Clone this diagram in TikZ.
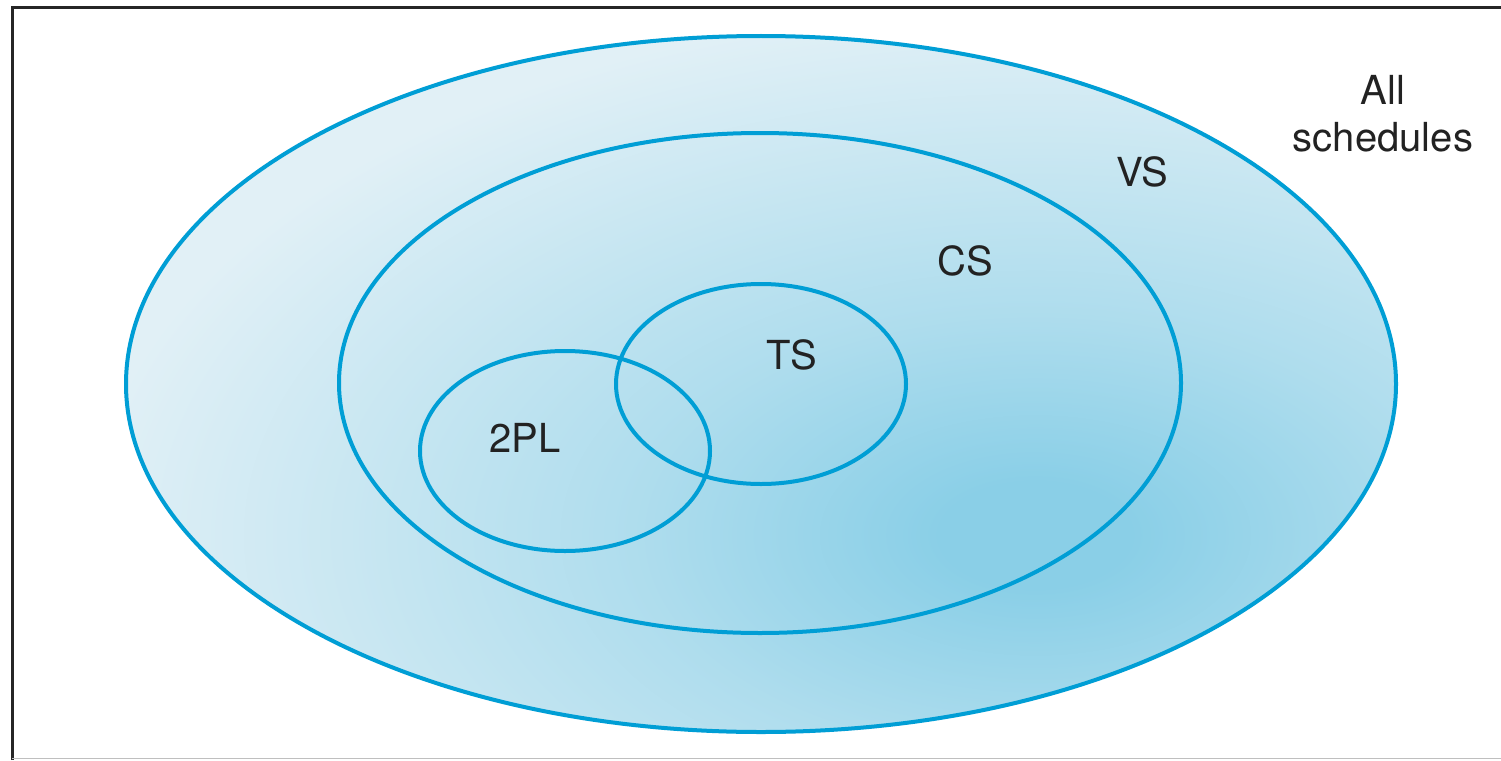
\documentclass[tikz,border=0pt]{standalone}
\usepackage{fontspec}
\setmainfont{TeX Gyre Heros}
\usetikzlibrary{shapes.geometric}
\definecolor{ringblue}{RGB}{0,158,213}
\definecolor{shadein}{RGB}{138,207,231}
\definecolor{shadeout}{RGB}{225,240,246}
\definecolor{labelgray}{RGB}{34,34,34}
\pgfdeclareradialshading{setshade}{\pgfpoint{0bp}{0bp}}{color(0bp)=(shadein); color(2.5bp)=(shadein); color(10.5bp)=(shadein!58!shadeout); color(19.5bp)=(shadein!22!shadeout); color(25bp)=(shadeout); color(50bp)=(shadeout)}
\tikzset{
  ring/.style={ellipse, draw=ringblue, line width=4pt, inner sep=0pt, outer sep=0pt},
  setlabel/.style={text=labelgray, font=\fontsize{40}{47}\selectfont, inner sep=0pt, align=center}
}
\begin{document}
\begin{tikzpicture}[x=1pt,y=-1pt]
\useasboundingbox (0,0) rectangle (1501,760);
\fill[white] (0,0) rectangle (1501,760);
% frame
\draw[black!85, line width=3pt] (12,760) -- (12,8) -- (1501,8);
\draw[black!25, line width=1.5pt] (12,758.5) -- (1501,758.5);
% shaded background of the outer set
\begin{scope}
  \clip (761,384) ellipse [x radius=635, y radius=348];
  \fill[shadeout] (761,384) ellipse [x radius=640, y radius=352];
  \shade[shading=setshade] (1035,535) ellipse [x radius=950, y radius=530];
\end{scope}
% sets
\node[ring, minimum width=1270pt, minimum height=696pt] (vs) at (761,384) {};
\node[ring, minimum width=842pt, minimum height=500pt] (cs) at (760,383) {};
\node[ring, minimum width=290pt, minimum height=200pt] (ts) at (761,384) {};
\node[ring, minimum width=290pt, minimum height=200pt] (tpl) at (565,451) {};
% labels
\node[setlabel] (all) at (1383,114) {All\\schedules};
\node[setlabel] (vsl) at (1142,172) {VS};
\node[setlabel] (csl) at (965,261) {CS};
\node[setlabel] (tsl) at (792,355) {TS};
\node[setlabel] (tpll) at (525,438) {2PL};
\end{tikzpicture}
\end{document}
